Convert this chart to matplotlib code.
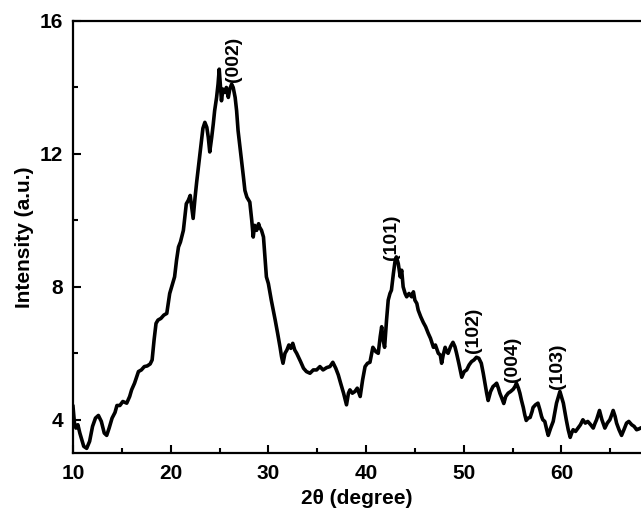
import matplotlib
matplotlib.use("Agg")
import numpy as np
import matplotlib.pyplot as plt
from matplotlib.ticker import MultipleLocator

# XRD pattern (2theta in degrees, intensity in a.u.)
two_theta = [
    10.0, 10.15, 10.3, 10.5, 10.7, 10.9, 11.1, 11.4, 11.7, 12.0, 12.3, 12.6, 12.9, 13.2, 13.45, 13.7,
    14.0, 14.3, 14.5, 14.8, 15.1, 15.5, 15.8, 16.0, 16.3, 16.7, 17.0, 17.3, 17.6, 17.9, 18.1, 18.3,
    18.5, 18.7, 19.0, 19.3, 19.6, 19.9, 20.2, 20.4, 20.6, 20.8, 21.0, 21.3, 21.6, 21.8, 22.0, 22.15,
    22.3, 22.5, 22.66, 22.8, 23.0, 23.15, 23.3, 23.5, 23.7, 23.85, 24.0, 24.2, 24.36, 24.5, 24.7, 24.85,
    24.97, 25.1, 25.2, 25.35, 25.56, 25.7, 25.9, 26.05, 26.24, 26.4, 26.6, 26.75, 26.9, 27.1, 27.27, 27.45,
    27.6, 27.8, 28.1, 28.3, 28.45, 28.6, 28.8, 29.0, 29.1, 29.3, 29.5, 29.65, 29.8, 30.0, 30.3, 30.5,
    30.7, 30.95, 31.2, 31.35, 31.5, 31.7, 31.9, 32.1, 32.3, 32.5, 32.7, 32.9, 33.06, 33.3, 33.6, 33.9,
    34.26, 34.6, 34.94, 35.28, 35.6, 35.97, 36.3, 36.6, 36.9, 37.16, 37.4, 37.7, 38.0, 38.2, 38.35, 38.6,
    38.86, 39.1, 39.4, 39.65, 39.9, 40.15, 40.4, 40.7, 41.0, 41.25, 41.45, 41.6, 41.75, 41.9, 42.1, 42.27,
    42.45, 42.6, 42.8, 42.96, 43.1, 43.3, 43.5, 43.65, 43.8, 44.0, 44.16, 44.4, 44.67, 44.85, 45.0, 45.2,
    45.34, 45.6, 45.86, 46.1, 46.37, 46.6, 46.9, 47.1, 47.4, 47.6, 47.74, 47.9, 48.1, 48.25, 48.4, 48.65,
    48.9, 49.1, 49.27, 49.5, 49.8, 50.05, 50.3, 50.55, 50.8, 51.05, 51.3, 51.55, 51.8, 52.0, 52.17, 52.35,
    52.5, 52.75, 53.0, 53.2, 53.37, 53.55, 53.7, 53.9, 54.1, 54.3, 54.55, 54.8, 55.07, 55.25, 55.4, 55.6,
    55.75, 55.9, 56.1, 56.25, 56.4, 56.6, 56.8, 57.0, 57.1, 57.35, 57.6, 57.8, 57.97, 58.1, 58.3, 58.5,
    58.65, 58.9, 59.16, 59.35, 59.5, 59.7, 59.85, 60.0, 60.2, 60.35, 60.5, 60.7, 60.9, 61.05, 61.2, 61.45,
    61.7, 61.95, 62.2, 62.45, 62.7, 63.0, 63.26, 63.45, 63.6, 63.9, 64.15, 64.45, 64.7, 64.96, 65.15, 65.3,
    65.5, 65.65, 65.9, 66.16, 66.4, 66.67, 66.9, 67.2, 67.45, 67.7, 67.9, 68.1, 68.5,
]
intensity = [
    4.4, 3.9, 3.75, 3.85, 3.6, 3.4, 3.2, 3.14, 3.35, 3.8, 4.05, 4.13, 3.95, 3.6, 3.53, 3.75,
    4.05, 4.22, 4.43, 4.43, 4.55, 4.5, 4.7, 4.9, 5.1, 5.45, 5.5, 5.6, 5.62, 5.68, 5.8, 6.4,
    6.9, 7.0, 7.05, 7.15, 7.2, 7.8, 8.1, 8.3, 8.8, 9.2, 9.35, 9.7, 10.5, 10.6, 10.75, 10.4,
    10.06, 10.7, 11.15, 11.5, 12.0, 12.4, 12.77, 12.95, 12.8, 12.5, 12.06, 12.5, 12.9, 13.3, 13.7, 14.1,
    14.55, 14.0, 13.6, 13.95, 13.85, 14.0, 13.7, 13.95, 14.1, 14.0, 13.7, 13.3, 12.7, 12.2, 11.8, 11.3,
    10.9, 10.7, 10.55, 10.0, 9.5, 9.85, 9.7, 9.9, 9.8, 9.7, 9.5, 8.9, 8.3, 8.1, 7.6, 7.3,
    7.0, 6.6, 6.18, 5.9, 5.7, 6.0, 6.1, 6.25, 6.15, 6.3, 6.1, 6.0, 5.9, 5.75, 5.55, 5.45,
    5.4, 5.5, 5.5, 5.6, 5.5, 5.57, 5.6, 5.73, 5.55, 5.35, 5.1, 4.8, 4.45, 4.8, 4.9, 4.8,
    4.85, 4.95, 4.7, 5.2, 5.6, 5.7, 5.73, 6.18, 6.05, 6.0, 6.5, 6.8, 6.4, 6.18, 7.0, 7.6,
    7.8, 7.9, 8.4, 8.75, 8.9, 8.7, 8.3, 8.5, 8.0, 7.8, 7.7, 7.8, 7.7, 7.85, 7.6, 7.5,
    7.3, 7.1, 6.93, 6.8, 6.6, 6.45, 6.18, 6.25, 6.0, 5.95, 5.7, 5.95, 6.18, 6.05, 6.0, 6.2,
    6.33, 6.2, 6.0, 5.7, 5.28, 5.45, 5.5, 5.65, 5.75, 5.8, 5.88, 5.85, 5.7, 5.4, 5.1, 4.8,
    4.58, 4.85, 5.0, 5.05, 5.1, 4.95, 4.8, 4.65, 4.49, 4.7, 4.8, 4.85, 4.92, 5.0, 5.1, 4.95,
    4.8, 4.6, 4.37, 4.15, 3.98, 4.05, 4.07, 4.25, 4.37, 4.45, 4.5, 4.3, 4.1, 4.0, 3.95, 3.7,
    3.53, 3.75, 3.95, 4.25, 4.5, 4.7, 4.85, 4.7, 4.5, 4.25, 4.0, 3.7, 3.47, 3.6, 3.7, 3.65,
    3.75, 3.85, 4.0, 3.9, 3.95, 3.85, 3.75, 3.9, 4.0, 4.28, 4.0, 3.75, 3.9, 4.0, 4.15, 4.28,
    4.1, 3.9, 3.7, 3.53, 3.7, 3.9, 3.95, 3.85, 3.8, 3.7, 3.72, 3.75, 3.8,
]

# peak labels: (label, 2theta, intensity where the label starts)
peak_labels = ["(002)", "(101)", "(102)", "(004)", "(103)"]
peak_x = [26.4, 42.6, 51.0, 55.0, 59.6]
peak_y = [14.15, 8.8, 6.0, 5.13, 4.92]

plt.rcParams['font.family'] = ['Liberation Sans', 'DejaVu Sans']
plt.rcParams['font.weight'] = 'bold'

fig = plt.figure(figsize=(6.41, 5.23), dpi=100)
# the original plot is cut off at the right edge of the picture
ax = fig.add_axes([73 / 641, 70 / 523, 568 / 641, 432 / 523])

ax.plot(two_theta, intensity, color='black', lw=2.6)

for lab, px, py in zip(peak_labels, peak_x, peak_y):
    ax.text(px, py, lab, rotation=90, ha='center', va='bottom',
            fontsize=14, fontweight='bold')

ax.set_xlim(10, 68.15)
ax.set_ylim(3, 16)
ax.xaxis.set_major_locator(MultipleLocator(10))
ax.xaxis.set_minor_locator(MultipleLocator(5))
ax.yaxis.set_major_locator(MultipleLocator(4))
ax.yaxis.set_minor_locator(MultipleLocator(2))

ax.tick_params(which='both', direction='in', width=1.5, labelsize=15)
ax.tick_params(which='major', length=6)
ax.tick_params(which='minor', length=3.5)
ax.tick_params(axis='x', pad=8)
ax.tick_params(axis='y', pad=7)
ax.tick_params(right=False, top=False)

for sp in ax.spines.values():
    sp.set_linewidth(1.6)
ax.spines['right'].set_visible(False)

ax.set_xlabel('2θ (degree)', fontsize=15, fontweight='bold', labelpad=4)
ax.set_ylabel('Intensity (a.u.)', fontsize=15, fontweight='bold', labelpad=4)

plt.savefig('out.png', dpi=100)
